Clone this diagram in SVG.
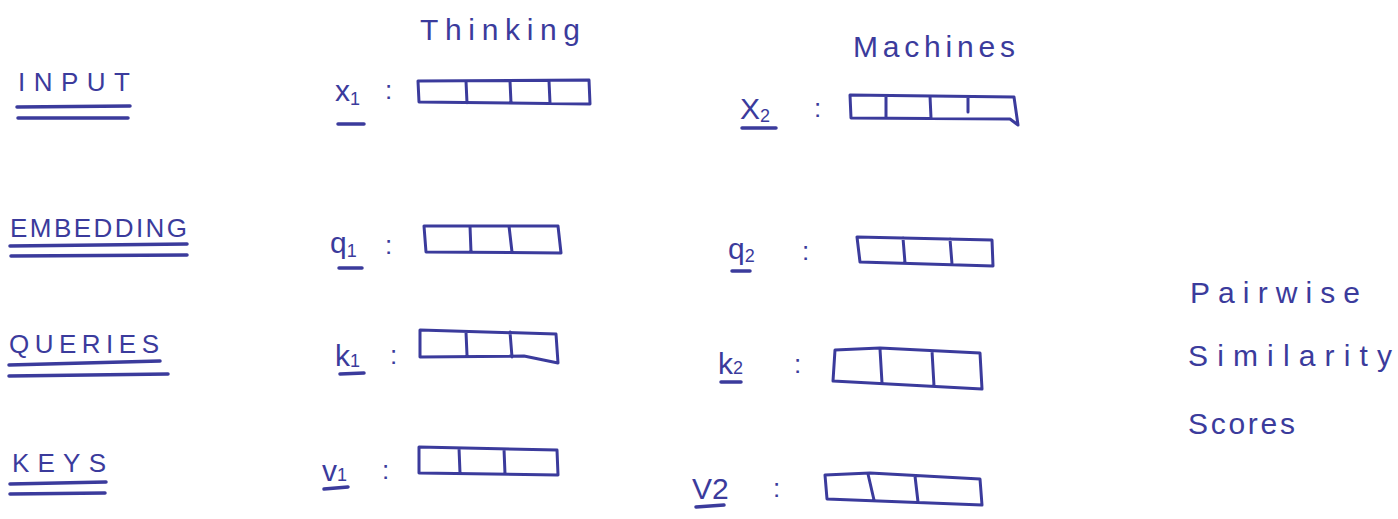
<svg xmlns="http://www.w3.org/2000/svg" width="1398" height="519" viewBox="0 0 1398 519">
<style>
text{font-family:"Liberation Sans","DejaVu Sans",sans-serif;fill:#3b3b9c}
.h{font-size:26px}
.w{font-size:30px}
.v{font-size:30px}
.s{font-size:18px}
.c{font-size:26px}
.ln{stroke:#3b3b9c;stroke-width:3;fill:none;stroke-linecap:round;stroke-linejoin:round}
.ul{stroke:#3b3b9c;stroke-width:3.5;fill:none;stroke-linecap:round}
</style>
<rect width="1398" height="519" fill="#ffffff"/>
<g id="words">
<text class="w" x="420" y="40" textLength="160" lengthAdjust="spacing">Thinking</text>
<text class="w" x="853" y="57" textLength="162" lengthAdjust="spacing">Machines</text>
</g>
<g id="row-labels">
<g id="label-input"><text class="h" x="18" y="91" textLength="112" lengthAdjust="spacing">INPUT</text>
<path class="ul" d="M17 107 L130 106 M18 118 L128 118"/></g>
<g id="label-embedding"><text class="h" x="10" y="237" textLength="177" lengthAdjust="spacing">EMBEDDING</text>
<path class="ul" d="M10 246 L187 244 M11 256 L187 255"/></g>
<g id="label-queries"><text class="h" x="9" y="353" textLength="150" lengthAdjust="spacing">QUERIES</text>
<path class="ul" d="M9 365 L160 361 M9 376 L168 374"/></g>
<g id="label-keys"><text class="h" x="12" y="472" textLength="94" lengthAdjust="spacing">KEYS</text>
<path class="ul" d="M10 484 L106 482 M10 494 L105 493"/></g>
</g>
<g id="node-x1"><text class="v" x="335" y="101">x<tspan class="s" dy="4">1</tspan></text>
<path class="ul" d="M338 124 L364 124"/><text class="c" x="385" y="99">:</text>
<path class="ln" d="M418 81 L589 80 L590 104 L419 102 Z M466 81 L467 103 M510 81 L511 103 M549 81 L550 103"/></g>
<g id="node-x2"><text class="v" x="740" y="119">X<tspan class="s" dy="3">2</tspan></text>
<path class="ul" d="M742 128 L776 128"/><text class="c" x="814" y="117">:</text>
<path class="ln" d="M850 95 L1014 97 L1018 125 L1010 119 L851 118 Z M886 96 L886 118 M930 96 L931 118 M968 97 L968 112"/></g>
<g id="node-q1"><text class="v" x="330" y="253">q<tspan class="s" dy="4">1</tspan></text>
<path class="ul" d="M339 268 L362 268"/><text class="c" x="385" y="254">:</text>
<path class="ln" d="M424 226 L558 226 L561 253 L426 252 Z M470 226 L471 252 M509 226 L512 252"/></g>
<g id="node-q2"><text class="v" x="728" y="259">q<tspan class="s" dy="3">2</tspan></text>
<path class="ul" d="M732 271 L750 271"/><text class="c" x="802" y="260">:</text>
<path class="ln" d="M857 237 L992 240 L993 266 L860 262 Z M903 238 L905 263 M950 239 L952 264"/></g>
<g id="node-k1"><text class="v" x="335" y="366">k<tspan class="s" dy="1">1</tspan></text>
<path class="ul" d="M340 374 L364 373"/><text class="c" x="390" y="364">:</text>
<path class="ln" d="M420 330 L556 334 L558 363 L524 356 L420 357 Z M466 332 L467 355 M510 332 L512 357"/></g>
<g id="node-k2"><text class="v" x="718" y="374">k<tspan class="s" dy="0">2</tspan></text>
<path class="ul" d="M721 382 L741 382"/><text class="c" x="794" y="373">:</text>
<path class="ln" d="M835 350 L880 348 L980 353 L982 389 L833 381 Z M880 349 L882 383 M932 351 L934 386"/></g>
<g id="node-v1"><text class="v" x="322" y="481">v<tspan class="s" dy="0">1</tspan></text>
<path class="ul" d="M324 489 L348 487"/><text class="c" x="382" y="479">:</text>
<path class="ln" d="M419 447 L557 450 L558 475 L419 473 Z M459 448 L460 473 M504 449 L505 474"/></g>
<g id="node-v2"><text class="v" x="692" y="499">V2</text>
<path class="ul" d="M696 507 L724 505"/><text class="c" x="773" y="497">:</text>
<path class="ln" d="M825 475 L870 473 L980 479 L982 505 L827 499 Z M868 474 L874 500 M915 476 L918 502"/></g>
<g id="scores"><text class="w" x="1190" y="303" textLength="170" lengthAdjust="spacing">Pairwise</text>
<text class="w" x="1188" y="366" textLength="204" lengthAdjust="spacing">Similarity</text>
<text class="w" x="1188" y="434" textLength="107" lengthAdjust="spacing">Scores</text></g>
<g id="connectors"/>
</svg>
